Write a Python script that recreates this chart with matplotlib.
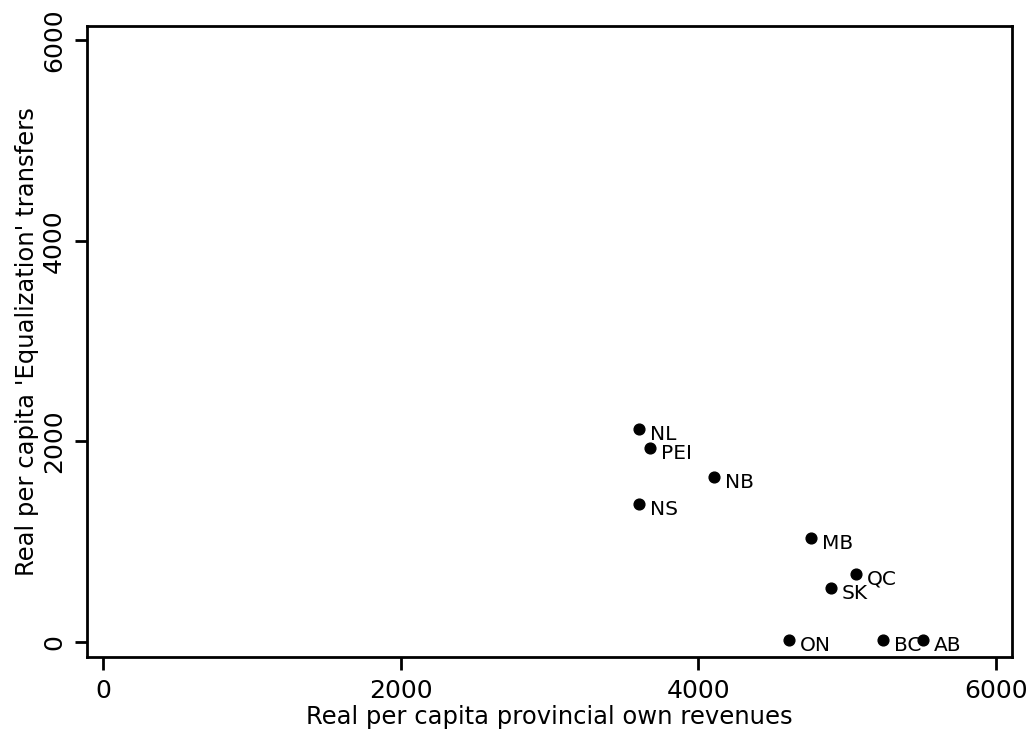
import matplotlib.pyplot as plt

# Dados
provincias = ['NL', 'PEI', 'NS', 'NB', 'QC', 'ON', 'MB', 'SK', 'AB', 'BC']
receitas = [3600, 3675, 3600, 4105, 5060, 4610, 4755, 4890, 5510, 5240]
equalizacao = [2120, 1930, 1380, 1640, 680, 20, 1040, 540, 20, 20]

xticks = [0, 2000, 4000, 6000]
yticks = [0, 2000, 4000, 6000]

plt.rcParams['font.family'] = 'DejaVu Sans'

fig = plt.figure(figsize=(10.28, 7.29), dpi=100)
ax = fig.add_axes([0.0846, 0.0988, 0.8998, 0.8655])

ax.scatter(receitas, equalizacao, s=60, color='black', zorder=3)
for nome, x, y in zip(provincias, receitas, equalizacao):
    ax.annotate(nome, (x, y), xytext=(8, -4), textcoords='offset points',
                ha='left', va='center', fontsize=14.5)

ax.set_xlim(-107, 6107)
ax.set_ylim(-150, 6140)
ax.set_xticks(xticks)
ax.set_yticks(yticks)
ax.tick_params(axis='both', direction='out', length=9, width=2, labelsize=18)
ax.tick_params(axis='x', pad=7)
ax.tick_params(axis='y', pad=6)
plt.setp(ax.get_yticklabels(), rotation=90, va='center')

for sp in ax.spines.values():
    sp.set_linewidth(2)

ax.set_xlabel('Real per capita provincial own revenues', fontsize=17.5, labelpad=1.5)
ax.set_ylabel("Real per capita 'Equalization' transfers", fontsize=17.5, labelpad=2)

fig.savefig('out.png', dpi=100)
